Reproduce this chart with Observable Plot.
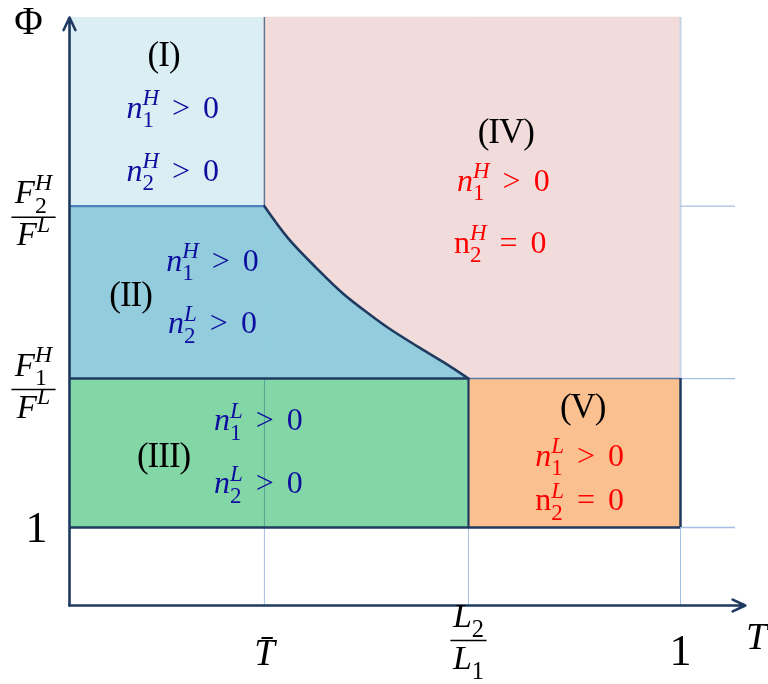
<!DOCTYPE html>
<html><head><meta charset="utf-8">
<script src="https://cdn.jsdelivr.net/npm/d3@7"></script>
<script src="https://cdn.jsdelivr.net/npm/@observablehq/plot@0.6"></script>
<style>body{margin:0;background:#fff} #chart svg{display:block}</style>
</head><body><div id="chart"></div>
<script>
// ---------------- data ----------------
// Φ axis: tick values and labels (1, F1H/FL, F2H/FL)
const phiTicks = [1, 1.955, 3.06];
const phiTickLabels = ["1", "F_1^H/F^L", "F_2^H/F^L"];
// T axis: tick values and labels (T̄, L2/L1, 1)
const tTicks = [0.319, 0.653, 1];
const tTickLabels = ["T\u0304", "L_2/L_1", "1"];
const phiBottom = 0.5, phiTop = 4.27, tArrowEnd = 1.106, gridEnd = 1.09;
// boundary between region II and IV
const boundaryT   = [0.319, 0.358, 0.403, 0.447, 0.493, 0.525, 0.570, 0.612, 0.653];
const boundaryPhi = [3.06, 2.854, 2.668, 2.502, 2.361, 2.271, 2.160, 2.060, 1.955];
// region names
const regionNames   = ["(I)", "(II)", "(III)", "(IV)", "(V)"];
const regionNameT   = [0.154, 0.100, 0.154, 0.714, 0.840];
const regionNamePhi = [4.028, 2.489, 1.463, 3.534, 1.771];
// conditions in each region
const condTexts  = ["n_1^H > 0", "n_2^H > 0", "n_1^H > 0", "n_2^L > 0", "n_1^L > 0", "n_2^L > 0",
                    "n_1^H > 0", "n_2^H = 0", "n_1^L > 0", "n_2^L = 0"];
const condRegion = [1, 1, 2, 2, 3, 3, 4, 4, 5, 5];
const condT      = [0.169, 0.169, 0.234, 0.234, 0.309, 0.309, 0.710, 0.705, 0.835, 0.835];
const condPhi    = [3.694, 3.290, 2.713, 2.310, 1.688, 1.284, 3.226, 2.829, 1.463, 1.175];

// ---------------- styles ----------------
const FONT = "'Liberation Serif', 'Times New Roman', serif";
const NAVY = "#1f3a60";
const GRID = "#a4bfe3";
const BLUE_TXT = "#0d0d9e", RED_TXT = "#ff0000";
const [Tbar, L21, T1] = tTicks;
const [P1, F1, F2] = phiTicks;
const idx = (a) => d3.range(a.length);
const TXT = {fill: "#000", fontFamily: FONT, textAnchor: "middle", lineAnchor: "middle"};

const plot = Plot.plot({
  width: 768, height: 684,
  marginLeft: 69, marginRight: 88, marginTop: 17, marginBottom: 79,
  x: {domain: [0, 1], axis: null},
  y: {domain: [phiBottom, phiTop], axis: null},
  style: {fontFamily: FONT, background: "#fff", overflow: "visible"},
  marks: [
    // region fills
    Plot.rect([0], {x1: 0, x2: Tbar, y1: F2, y2: phiTop, fill: "#dbeef4"}),
    Plot.rect([0], {x1: 0, x2: Tbar, y1: F1, y2: F2, fill: "#93cddd", stroke: "#93cddd", strokeWidth: 0.6}),
    Plot.areaY(idx(boundaryT), {x: i => boundaryT[i], y1: () => F1, y2: i => boundaryPhi[i], curve: "catmull-rom", fill: "#93cddd", stroke: "#93cddd", strokeWidth: 0.6}),
    Plot.areaY(idx(boundaryT), {x: i => boundaryT[i], y1: i => boundaryPhi[i], y2: () => phiTop, curve: "catmull-rom", fill: "#f2dcdb", stroke: "#f2dcdb", strokeWidth: 0.6}),
    Plot.rect([0], {x1: L21, x2: T1, y1: F1, y2: phiTop, fill: "#f2dcdb", stroke: "#f2dcdb", strokeWidth: 0.6}),
    Plot.rect([0], {x1: 0, x2: L21, y1: P1, y2: F1, fill: "#83d7a6"}),
    Plot.rect([0], {x1: L21, x2: T1, y1: P1, y2: F1, fill: "#fac090"}),
    // grid lines
    Plot.ruleX([0], {x: Tbar, y1: phiBottom, y2: F1, stroke: GRID, strokeWidth: 1, mixBlendMode: "multiply"}),
    Plot.ruleX([0], {x: L21, y1: phiBottom, y2: P1, stroke: GRID, strokeWidth: 1}),
    Plot.ruleX([0], {x: T1, y1: phiBottom, y2: F1, stroke: GRID, strokeWidth: 1}),
    Plot.ruleX([0], {x: T1, y1: F1, y2: phiTop, stroke: "#c5d1e5", strokeWidth: 2}),
    Plot.ruleY(phiTicks, {y: d => d, x1: T1, x2: gridEnd, stroke: GRID, strokeWidth: 1.3}),
    // borders
    Plot.ruleY([0], {y: F2, x1: 0, x2: Tbar, stroke: "#4f81bd", strokeWidth: 2.2}),
    Plot.ruleX([0], {x: Tbar, y1: F2, y2: phiTop, stroke: "#5a7391", strokeWidth: 1.4}),
    Plot.ruleY([0], {y: F1, x1: L21, x2: T1, stroke: "#5c7aa2", strokeWidth: 1.6}),
    Plot.ruleY([0], {y: F1, x1: 0, x2: L21, stroke: NAVY, strokeWidth: 2.4}),
    Plot.ruleX([0], {x: L21, y1: P1, y2: F1, stroke: NAVY, strokeWidth: 2.2}),
    Plot.ruleX([0], {x: T1, y1: P1, y2: F1, stroke: NAVY, strokeWidth: 2.5}),
    Plot.ruleY([0], {y: P1, x1: 0, x2: T1, stroke: NAVY, strokeWidth: 2.6}),
    Plot.line(idx(boundaryT), {x: i => boundaryT[i], y: i => boundaryPhi[i], curve: "catmull-rom", stroke: NAVY, strokeWidth: 2.6}),
    // axes
    Plot.arrow([0], {x1: 0, y1: phiBottom, x2: 0, y2: phiTop, stroke: NAVY, strokeWidth: 2.6, headLength: 8, headAngle: 50, strokeLinecap: "round", strokeLinejoin: "round"}),
    Plot.arrow([0], {x1: 0, y1: phiBottom, x2: tArrowEnd, y2: phiBottom, stroke: NAVY, strokeWidth: 2.6, headLength: 8, headAngle: 50, strokeLinecap: "round", strokeLinejoin: "round"}),
    // axis titles
    Plot.text(["\u03A6"], {...TXT, text: d => d, frameAnchor: "top-left", dx: -41, dy: 4, fontSize: 39}),
    Plot.text(["T"], {...TXT, text: d => d, frameAnchor: "bottom-right", dx: 76, dy: 31, fontSize: 38, fontStyle: "italic"}),
    // y tick labels
    Plot.text(idx(phiTicks).filter(i => !phiTickLabels[i].includes("/")), {...TXT, y: i => phiTicks[i], text: i => phiTickLabels[i], frameAnchor: "left", dx: -33, fontSize: 44}),
    Plot.text(idx(phiTicks).filter(i => phiTickLabels[i].includes("/")), {...TXT, y: i => phiTicks[i], text: i => phiTickLabels[i], frameAnchor: "left", dx: -36, dy: 11, fontSize: 33}),
    // x tick labels
    Plot.text(idx(tTicks).filter(i => tTickLabels[i] === "1"), {...TXT, x: i => tTicks[i], text: i => tTickLabels[i], frameAnchor: "bottom", dy: 45, fontSize: 44}),
    Plot.text(idx(tTicks).filter(i => tTickLabels[i].startsWith("T")), {...TXT, x: i => tTicks[i], text: i => tTickLabels[i], frameAnchor: "bottom", dy: 48, fontSize: 37, fontStyle: "italic"}),
    Plot.text(idx(tTicks).filter(i => tTickLabels[i].includes("/")), {...TXT, x: i => tTicks[i], text: i => tTickLabels[i], frameAnchor: "bottom", dy: 35, fontSize: 34}),
    // region names
    Plot.text(idx(regionNames), {...TXT, x: i => regionNameT[i], y: i => regionNamePhi[i], text: i => regionNames[i], fontSize: 35}),
    // conditions
    Plot.text(idx(condTexts).filter(i => condRegion[i] <= 3), {...TXT, x: i => condT[i], y: i => condPhi[i], text: i => condTexts[i], fontSize: 32, fill: BLUE_TXT}),
    Plot.text(idx(condTexts).filter(i => condRegion[i] >= 4), {...TXT, x: i => condT[i], y: i => condPhi[i], text: i => condTexts[i], fontSize: 32, fill: RED_TXT})
  ]
});
document.getElementById("chart").appendChild(plot);

// ---------------- math typesetting of labels ----------------
const NS = "http://www.w3.org/2000/svg";
function tokenize(s) {
  const out = []; let i = 0;
  while (i < s.length) {
    const c = s[i];
    if (c === "_" || c === "^") {
      let j = i + 1, t = "";
      while (j < s.length && /[A-Za-z0-9]/.test(s[j])) { t += s[j]; j++; }
      out.push({text: t, role: c === "_" ? "sub" : "sup"}); i = j;
    } else {
      let t = "";
      while (i < s.length && s[i] !== "_" && s[i] !== "^") { t += s[i]; i++; }
      out.push({text: t, role: "base"});
    }
  }
  return out;
}
function mk(text, fs, italic) {
  const s = document.createElementNS(NS, "tspan");
  s.textContent = text;
  s.setAttribute("font-size", fs.toFixed(2));
  if (italic) s.setAttribute("font-style", "italic");
  return s;
}
function fillRich(el, src, fs, upright) {
  while (el.firstChild) el.removeChild(el.firstChild);
  let cur = 0, pendDx = 0, lastSubW = 0, prev = null;
  for (const t of tokenize(src)) {
    if (t.role === "base") {
      for (const run of (t.text.match(/[A-Za-z]+|[^A-Za-z]+/g) || [])) {
        const s = mk(run, fs, /[A-Za-z]/.test(run) && !upright);
        if (cur) { s.setAttribute("dy", (-cur).toFixed(2)); cur = 0; }
        if (pendDx) { s.setAttribute("dx", pendDx.toFixed(2)); pendDx = 0; }
        el.appendChild(s);
      }
    } else if (t.role === "sub") {
      const s = mk(t.text, fs * 0.72, /[A-Za-z]/.test(t.text));
      const target = fs * 0.3;
      s.setAttribute("dy", (target - cur).toFixed(2)); cur = target;
      el.appendChild(s);
      lastSubW = s.getComputedTextLength();
    } else {
      const s = mk(t.text, fs * 0.72, /[A-Za-z]/.test(t.text));
      const target = -fs * 0.4;
      s.setAttribute("dy", (target - cur).toFixed(2)); cur = target;
      if (prev === "sub") s.setAttribute("dx", (-lastSubW).toFixed(2));
      el.appendChild(s);
      if (prev === "sub") { const w = s.getComputedTextLength(); if (lastSubW > w) pendDx = lastSubW - w; }
    }
    prev = t.role;
  }
}
const texts = Array.from(plot.querySelectorAll("text"));
for (const el of texts) {
  const src = el.textContent;
  if (/^\([IV]+\)$/.test(src)) { el.style.letterSpacing = "-1px"; continue; }
  if (!/[_^]/.test(src)) continue;
  const fs = parseFloat(getComputedStyle(el).fontSize);
  if (src.includes("/")) {
    const [num, den] = src.split("/");
    const bx = parseFloat(el.getAttribute("x")) || 0;
    const yAttr = el.getAttribute("y") || "0";
    const by = yAttr.endsWith("em") ? 0 : (parseFloat(yAttr) || 0);
    const denEl = el.cloneNode(false);
    el.parentNode.appendChild(denEl);
    el.setAttribute("y", by - 14);
    denEl.setAttribute("y", by + 28);
    fillRich(el, num, fs, false);
    fillRich(denEl, den, fs, false);
    const w = Math.max(el.getBBox().width, denEl.getBBox().width) + 4;
    const line = document.createElementNS(NS, "line");
    const tr = el.getAttribute("transform"); if (tr) line.setAttribute("transform", tr);
    line.setAttribute("x1", bx - w / 2); line.setAttribute("x2", bx + w / 2);
    line.setAttribute("y1", by); line.setAttribute("y2", by);
    line.setAttribute("stroke", "#000"); line.setAttribute("stroke-width", "1.6");
    el.parentNode.appendChild(line);
  } else {
    fillRich(el, src, fs, src.includes("="));
    el.style.wordSpacing = "5px";
  }
}
</script>
</body></html>
